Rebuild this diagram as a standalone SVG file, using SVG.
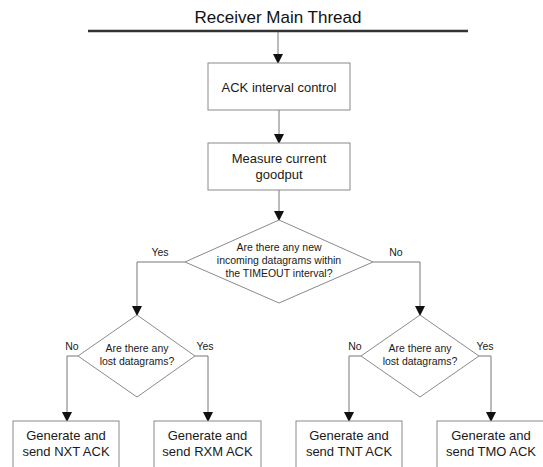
<svg xmlns="http://www.w3.org/2000/svg" width="543" height="467" viewBox="0 0 543 467">
  <defs>
    <marker id="arr" markerUnits="userSpaceOnUse" markerWidth="10" markerHeight="12" refX="9" refY="5" orient="auto">
      <path d="M0,0 L10,5 L0,10 Z" fill="#111"/>
    </marker>
    <style>
      .box { fill: #fff; stroke: #8a8a8a; stroke-width: 1; }
      .dia { fill: #fff; stroke: #8a8a8a; stroke-width: 1; }
      .conn { fill: none; stroke: #777; stroke-width: 1; marker-end: url(#arr); }
      .t13 { font-family: "Liberation Sans", Arial, sans-serif; font-size: 13px; fill: #1a1a1a; text-anchor: middle; }
      .t10 { font-family: "Liberation Sans", Arial, sans-serif; font-size: 10.5px; fill: #1a1a1a; text-anchor: middle; }
      .title { font-family: "Liberation Sans", Arial, sans-serif; font-size: 17px; fill: #111; text-anchor: middle; }
    </style>
  </defs>
  <rect width="543" height="467" fill="#fff"/>

  <g id="title">
    <text class="title" x="278" y="23">Receiver Main Thread</text>
    <line x1="88" y1="31" x2="468" y2="31" stroke="#333" stroke-width="2.5"/>
  </g>

  <g id="connectors">
    <path class="conn" d="M278,32 V63"/>
    <path class="conn" d="M279,110 V143"/>
    <path class="conn" d="M279,190 V220"/>
    <path class="conn" d="M185,262 H137 V315"/>
    <path class="conn" d="M373,262 H420 V315"/>
    <path class="conn" d="M78,356 H67 V421"/>
    <path class="conn" d="M195,356 H208 V421"/>
    <path class="conn" d="M361,356 H349 V421"/>
    <path class="conn" d="M479,356 H491 V421"/>
    <text class="t10" x="160" y="256">Yes</text>
    <text class="t10" x="396" y="256">No</text>
    <text class="t10" x="72" y="350">No</text>
    <text class="t10" x="205" y="350">Yes</text>
    <text class="t10" x="355" y="350">No</text>
    <text class="t10" x="485" y="350">Yes</text>
  </g>

  <g id="ack_interval">
    <rect class="box" x="208" y="63" width="142" height="47"/>
    <text class="t13" x="279" y="91.5">ACK interval control</text>
  </g>

  <g id="measure_goodput">
    <rect class="box" x="208" y="143" width="142" height="47"/>
    <text class="t13" x="279" y="163">Measure current</text>
    <text class="t13" x="279" y="179">goodput</text>
  </g>

  <g id="decision_new">
    <polygon class="dia" points="279,220 373,262 279,303 185,262"/>
    <text class="t10" x="279" y="251">Are there any new</text>
    <text class="t10" x="279" y="264">incoming datagrams within</text>
    <text class="t10" x="279" y="277">the TIMEOUT interval?</text>
  </g>

  <g id="decision_lost_left">
    <polygon class="dia" points="137,315 195,356 137,397 78,356"/>
    <text class="t10" x="137" y="352">Are there any</text>
    <text class="t10" x="137" y="365">lost datagrams?</text>
  </g>

  <g id="decision_lost_right">
    <polygon class="dia" points="420,315 479,356 420,397 361,356"/>
    <text class="t10" x="420" y="352">Are there any</text>
    <text class="t10" x="420" y="365">lost datagrams?</text>
  </g>

  <g id="nxt_ack">
    <rect class="box" x="13" y="421" width="106" height="55"/>
    <text class="t13" x="66" y="440">Generate and</text>
    <text class="t13" x="66" y="456">send NXT ACK</text>
  </g>

  <g id="rxm_ack">
    <rect class="box" x="154" y="421" width="107" height="55"/>
    <text class="t13" x="207.5" y="440">Generate and</text>
    <text class="t13" x="207.5" y="456">send RXM ACK</text>
  </g>

  <g id="tnt_ack">
    <rect class="box" x="296" y="421" width="106" height="55"/>
    <text class="t13" x="349" y="440">Generate and</text>
    <text class="t13" x="349" y="456">send TNT ACK</text>
  </g>

  <g id="tmo_ack">
    <rect class="box" x="437" y="421" width="108" height="55"/>
    <text class="t13" x="491" y="440">Generate and</text>
    <text class="t13" x="491" y="456">send TMO ACK</text>
  </g>
</svg>
